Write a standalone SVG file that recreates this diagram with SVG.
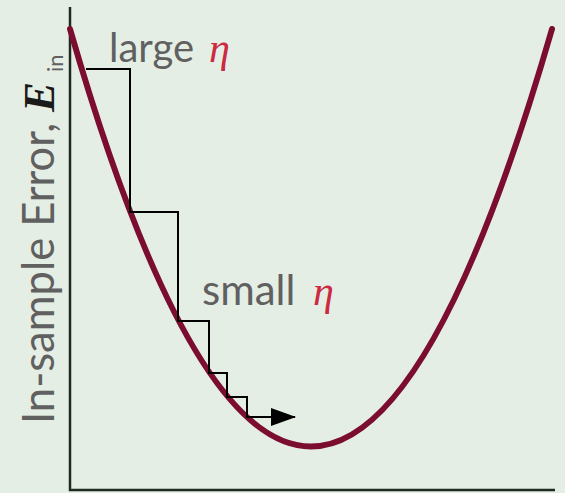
<svg xmlns="http://www.w3.org/2000/svg" width="565" height="493" viewBox="0 0 565 493">
<style>
.axis{fill:none;stroke:#1f2a20;stroke-width:2.5}
.curve{fill:none;stroke:#7a0d30;stroke-width:6;stroke-linecap:round}
.steps{fill:none;stroke:#000;stroke-width:2}
.lbl{font-family:Lato,"Open Sans",sans-serif;fill:#606060}
.eta{font-family:"Liberation Serif",serif;font-style:italic;fill:#cc2a40}
.math{font-family:"Liberation Serif",serif;font-style:italic;font-weight:bold;fill:#1a1a1a}
</style>
<defs>
<marker id="ah" viewBox="0 0 25 18" refX="24" refY="9" markerWidth="25" markerHeight="18" markerUnits="userSpaceOnUse" orient="auto">
<path d="M0,0 L25,9 L0,18 Z" fill="#000"/>
</marker>
</defs>
<rect width="565" height="493" fill="#e5eee4"/>
<g id="axes">
<path class="axis" d="M70,7 V490 H555"/>
</g>
<g id="curve">
<path class="curve" d="M70,29 Q311,864 552,29"/>
</g>
<g id="connectors">
<path class="steps" d="M86,69 H130 V212 H178 V321 H209 V373 H227 V397 H247 V417 H295" marker-end="url(#ah)"/>
</g>
<g id="label-large">
<text class="lbl" x="109" y="62" font-size="40">large</text>
<text class="eta" x="209" y="62" font-size="42">η</text>
</g>
<g id="label-small">
<text class="lbl" x="202" y="305" font-size="42">small</text>
<text class="eta" x="313" y="305" font-size="42">η</text>
</g>
<g id="ylabel">
<text transform="translate(54,424) rotate(-90)" font-size="43.5"><tspan class="lbl">In-sample Error,</tspan><tspan class="math" x="312" font-size="45">E</tspan><tspan class="lbl" x="352" dy="9" font-size="22">in</tspan></text>
</g>
</svg>
